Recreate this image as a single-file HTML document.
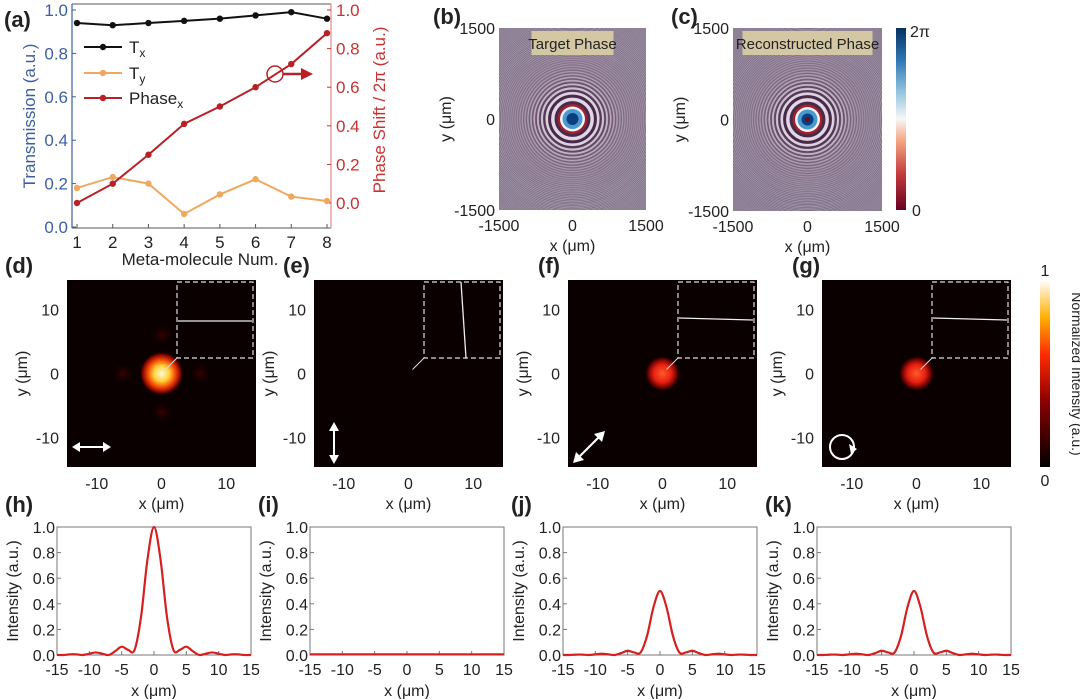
<!DOCTYPE html>
<html><head><meta charset="utf-8"><style>
html,body{margin:0;padding:0;background:#fff;}
svg{display:block;font-family:"Liberation Sans",Arial,sans-serif;}
</style></head><body>
<svg id="fig" width="1080" height="699" viewBox="0 0 1080 699" xmlns="http://www.w3.org/2000/svg">
<defs>
<linearGradient id="phaseCb" x1="0" y1="1" x2="0" y2="0">
<stop offset="0" stop-color="#67001f"/><stop offset="0.2" stop-color="#c43c3c"/><stop offset="0.38" stop-color="#f4a582"/><stop offset="0.5" stop-color="#f7f7f7"/><stop offset="0.65" stop-color="#92c5de"/><stop offset="0.82" stop-color="#2f79b5"/><stop offset="1" stop-color="#053061"/>
</linearGradient>
<linearGradient id="hotCb" x1="0" y1="1" x2="0" y2="0">
<stop offset="0" stop-color="#000"/><stop offset="0.35" stop-color="#8b0000"/><stop offset="0.6" stop-color="#ff2a00"/><stop offset="0.8" stop-color="#ffb000"/><stop offset="1" stop-color="#ffffff"/>
</linearGradient>
<radialGradient id="spotBright"><stop offset="0" stop-color="#fffbe0"/><stop offset="0.35" stop-color="#ffd23a"/><stop offset="0.65" stop-color="#f04000"/><stop offset="0.88" stop-color="#700000"/><stop offset="1" stop-color="#0a0000" stop-opacity="0"/></radialGradient>
<radialGradient id="spotMid"><stop offset="0" stop-color="#ff5a2a"/><stop offset="0.5" stop-color="#e62010"/><stop offset="0.82" stop-color="#600000"/><stop offset="1" stop-color="#0a0000" stop-opacity="0"/></radialGradient>
<radialGradient id="lobe"><stop offset="0" stop-color="#3a0000"/><stop offset="1" stop-color="#0a0000" stop-opacity="0"/></radialGradient>
<clipPath id="clipB"><rect x="499" y="28" width="147" height="182"/></clipPath>
<clipPath id="clipC"><rect x="733" y="28" width="149" height="183"/></clipPath>
</defs>
<g id="root"></g>
</svg>
<script>
// ---------- Panel (a) data ----------
const metaNums = [1,2,3,4,5,6,7,8];
const txValues = [0.94,0.93,0.94,0.95,0.96,0.975,0.99,0.96];
const tyValues = [0.18,0.23,0.20,0.06,0.15,0.22,0.14,0.12];
const phaseValues = [0.0,0.10,0.25,0.41,0.50,0.60,0.72,0.88];
const leftTicks = ["0.0","0.2","0.4","0.6","0.8","1.0"];
const rightTicks = ["0.0","0.2","0.4","0.6","0.8","1.0"];
// ---------- Line profile data (x = -15..15 step 1) ----------
const profileX = [-15,-14,-13,-12,-11,-10,-9,-8,-7,-6,-5,-4,-3,-2,-1,0,1,2,3,4,5,6,7,8,9,10,11,12,13,14,15];
const profileH = [0,0,0.005,0.005,0,0.01,0.02,0.01,0,0.03,0.065,0.04,0.04,0.3,0.75,1.0,0.75,0.3,0.04,0.04,0.065,0.03,0,0.01,0.02,0.01,0,0.005,0.005,0,0];
const profileI = [0.005,0.005,0.005,0.005,0.005,0.005,0.005,0.005,0.005,0.005,0.005,0.005,0.005,0.005,0.005,0.005,0.005,0.005,0.005,0.005,0.005,0.005,0.005,0.005,0.005,0.005,0.005,0.005,0.005,0.005,0.005];
const profileJ = [0,0,0.003,0.003,0,0.005,0.01,0.005,0,0.015,0.033,0.02,0.02,0.15,0.375,0.5,0.375,0.15,0.02,0.02,0.033,0.015,0,0.005,0.01,0.005,0,0.003,0.003,0,0];
const profileK = [0,0,0.003,0.003,0,0.005,0.01,0.005,0,0.015,0.033,0.02,0.02,0.15,0.375,0.5,0.375,0.15,0.02,0.02,0.033,0.015,0,0.005,0.01,0.005,0,0.003,0.003,0,0];
const profileTicksX = [-15,-10,-5,0,5,10,15];
const profileTicksY = ["0.0","0.2","0.4","0.6","0.8","1.0"];
const mapTicks = [-10,0,10];
const phaseTicks = [-1500,0,1500];

const NS="http://www.w3.org/2000/svg";
const root=document.getElementById('root');
function el(tag,attrs,parent,text){const e=document.createElementNS(NS,tag);for(const k in attrs)e.setAttribute(k,attrs[k]);if(text!==undefined)e.textContent=text;(parent||root).appendChild(e);return e;}

// ===== Panel (a) =====
const ax={l:72,r:331,t:4,b:228};
const axX=v=>77+(v-1)*(327-77)/7;
const axYL=v=>227-217*v;
const axYR=v=>203-193*v;
const gA=el('g',{});


let t=el('text',{x:4,y:27,'font-size':22,'font-weight':'bold',fill:'#222'},gA,'(a)');

let fr=el('line',{x1:ax.l,y1:ax.t,x2:ax.r,y2:ax.t,stroke:'#555','stroke-width':1},gA);
fr=el('line',{x1:ax.l,y1:ax.b,x2:ax.r,y2:ax.b,stroke:'#555','stroke-width':1},gA);

fr=el('line',{x1:ax.l,y1:ax.t,x2:ax.l,y2:ax.b,stroke:'#3d5fa0','stroke-width':1.2},gA);

fr=el('line',{x1:ax.r,y1:ax.t,x2:ax.r,y2:ax.b,stroke:'#e08a8a','stroke-width':1.2},gA);

leftTicks.forEach(s=>{const v=parseFloat(s);const y=axYL(v);
 el('line',{x1:ax.l,y1:y,x2:ax.l+4,y2:y,stroke:'#3d5fa0'},gA);
 const tt=el('text',{x:ax.l-4,y:y+6,'font-size':17,fill:'#3d5fa0','text-anchor':'end'},gA,s);
 });
rightTicks.forEach(s=>{const v=parseFloat(s);const y=axYR(v);
 el('line',{x1:ax.r-4,y1:y,x2:ax.r,y2:y,stroke:'#c83232'},gA);
 const tt=el('text',{x:ax.r+5,y:y+6,'font-size':17,fill:'#c83232'},gA,s);
 });
metaNums.forEach(n=>{const x=axX(n);
 el('line',{x1:x,y1:ax.b,x2:x,y2:ax.b-4,stroke:'#555'},gA);
 const tt=el('text',{x:x,y:248,'font-size':17,fill:'#222','text-anchor':'middle'},gA,String(n));
 });
t=el('text',{x:200,y:265,'font-size':17,fill:'#222','text-anchor':'middle'},gA,'Meta-molecule Num.');

t=el('text',{x:0,y:0,'font-size':17,fill:'#3d5fa0','text-anchor':'middle',transform:'translate(35,116) rotate(-90)'},gA,'Transmission (a.u.)');

t=el('text',{x:0,y:0,'font-size':17,fill:'#c83232','text-anchor':'middle',transform:'translate(385,110) rotate(-90)'},gA,'Phase Shift / 2π (a.u.)');

function series(vals,scale,color,name){
 const pts=vals.map((v,i)=>axX(metaNums[i])+','+scale(v)).join(' ');
 const p=el('polyline',{points:pts,fill:'none',stroke:color,'stroke-width':2},gA);
 
 vals.forEach((v,i)=>{const c=el('circle',{cx:axX(metaNums[i]),cy:scale(v),r:3.2,fill:color},gA);
  });
}
series(txValues,axYL,'#111','tx');
series(tyValues,axYL,'#f0a860','ty');
series(phaseValues,axYR,'#b82025','phase');
[['#111','T','x',47],['#f0a860','T','y',73],['#b82025','Phase','x',98]].forEach(([c,s,sub,y])=>{
 const lg=el('g',{},gA);
 el('line',{x1:84,y1:y,x2:122,y2:y,stroke:c,'stroke-width':2},lg);
 el('circle',{cx:103,cy:y,r:3.2,fill:c},lg);
 const tx=el('text',{x:129,y:y+6,'font-size':17,fill:'#222'},lg,s);
 el('tspan',{'font-size':12,dy:4},tx,sub);});
t=el('circle',{cx:275,cy:74,r:8,fill:'none',stroke:'#b82025','stroke-width':1.5},gA);

el('line',{x1:283,y1:74,x2:303,y2:74,stroke:'#b82025','stroke-width':2.5},gA);
el('polygon',{points:'301,68 313,74 301,80',fill:'#b82025'},gA);

// ===== Phase maps (b),(c) =====
function phaseMap(x0,y0,w,h,clip,name,label,lblW,noisy){
 const g=el('g',{});
 const cx=x0+w/2, cy=y0+h/2;
 const inner=el('g',{'clip-path':'url(#'+clip+')'},g);
 el('rect',{x:x0,y:y0,width:w,height:h,fill:noisy?'#8d8398':'#8f8599'},inner);
 for(let n=140;n>=1;n--){
  const r=9*Math.sqrt(n*1.6);
  const col=(n%2===0)?'#4a2848':'#e0d8e6';
  const op=Math.max(0.2,Math.min(1,6/(r*0.25)));
  el('circle',{cx:cx,cy:cy,r:r,fill:'none',stroke:col,'stroke-width':Math.max(0.9,3.5-n*0.05),'stroke-opacity':op},inner);
 }
 el('circle',{cx:cx,cy:cy,r:15,fill:'#a02030'},inner);
 el('circle',{cx:cx,cy:cy,r:12.5,fill:'#f4f4f4'},inner);
 el('circle',{cx:cx,cy:cy,r:10,fill:'#4a9ad0'},inner);
 el('circle',{cx:cx,cy:cy,r:6,fill:'#0c3f80'},inner);
 if(noisy) el('circle',{cx:cx,cy:cy,r:2.5,fill:'#6b0f20'},inner);
 const lb=el('g',{},g);
 el('rect',{x:cx-lblW/2,y:y0+3,width:lblW,height:24,fill:'#d4c8a4'},lb);
 el('text',{x:cx,y:y0+21,'font-size':15,fill:'#222','text-anchor':'middle'},lb,label);
 phaseTicks.forEach(v=>{
  const xx=x0+(v+1500)/3000*w, yy=y0+h-(v+1500)/3000*h;
  const a=el('text',{x:xx,y:y0+h+21,'font-size':16,fill:'#222','text-anchor':'middle'},g,String(v));
  
  const b=el('text',{x:x0-4,y:yy+6,'font-size':16,fill:'#222','text-anchor':'end'},g,String(v));
  });
 let xl=el('text',{x:cx,y:y0+h+41,'font-size':16,fill:'#222','text-anchor':'middle'},g,'x (μm)');
 
 let yl=el('text',{x:0,y:0,'font-size':16,fill:'#222','text-anchor':'middle',transform:'translate('+(x0-48)+','+cy+') rotate(-90)'},g,'y (μm)');
 
}
phaseMap(499,28,147,182,'clipB','phase-map-target','Target Phase',82,false);
phaseMap(733,28,149,183,'clipC','phase-map-reconstructed','Reconstructed Phase',130,true);
t=el('text',{x:433,y:24,'font-size':22,'font-weight':'bold',fill:'#222'},root,'(b)');

t=el('text',{x:671,y:24,'font-size':22,'font-weight':'bold',fill:'#222'},root,'(c)');

t=el('rect',{x:896,y:28,width:10,height:182,fill:'url(#phaseCb)'},root);

t=el('text',{x:910,y:37,'font-size':16,fill:'#222'},root,'2π');

t=el('text',{x:912,y:216,'font-size':16,fill:'#222'},root,'0');


// ===== Intensity maps (d)-(g) =====
function intensityMap(x0,name,lbl,lblX,spot,inset,pol){
 const y0=280,w=189,h=187;
 const g=el('g',{});
 el('rect',{x:x0,y:y0,width:w,height:h,fill:'#0a0000'},g);
 const cx=x0+w/2, cy=y0+h/2;
 const sx=v=>cx+v*(w/2)/14.6, sy=v=>cy-v*(h/2)/14.6;
 if(spot==='bright'){
  [[0,6],[0,-6],[6,0],[-6,0]].forEach(([a,b])=>el('circle',{cx:sx(a),cy:sy(b),r:12,fill:'url(#lobe)'},g));
  el('circle',{cx:cx,cy:cy,r:22,fill:'url(#spotBright)'},g);
 } else if(spot==='mid'){
  el('circle',{cx:cx,cy:cy,r:18,fill:'url(#spotMid)'},g);
 }
 const bx=x0+110, by=y0+2;
 const ins=el('g',{},g);
 el('rect',{x:bx,y:by,width:76,height:76,fill:'none',stroke:'#ddd','stroke-width':1.2,'stroke-dasharray':'5,3'},ins);
 if(inset==='h') el('line',{x1:bx+1,y1:by+39,x2:bx+75,y2:by+39,stroke:'#eee','stroke-width':1.3},ins);
 if(inset==='v') el('line',{x1:bx+37,y1:by,x2:bx+42,y2:by+76,stroke:'#eee','stroke-width':1.3},ins);
 if(inset==='t') el('line',{x1:bx+1,y1:by+36,x2:bx+75,y2:by+38,stroke:'#eee','stroke-width':1.3},ins);
 el('line',{x1:bx,y1:by+76,x2:cx+4,y2:cy-4,stroke:'#ddd','stroke-width':1},ins);
 const pg=el('g',{stroke:'#fff','stroke-width':2,fill:'#fff'},g);
 
 if(pol==='h'){el('line',{x1:76,y1:0,x2:106,y2:0,transform:'translate('+(x0-67)+',447)'},pg);
  el('polygon',{points:(x0+5)+',447 '+(x0+13)+',442 '+(x0+13)+',452',stroke:'none'},pg);
  el('polygon',{points:(x0+44)+',447 '+(x0+36)+',442 '+(x0+36)+',452',stroke:'none'},pg);}
 if(pol==='v'){el('line',{x1:x0+20,y1:429,x2:x0+20,y2:461},pg);
  el('polygon',{points:(x0+20)+',422 '+(x0+15)+',431 '+(x0+25)+',431',stroke:'none'},pg);
  el('polygon',{points:(x0+20)+',464 '+(x0+15)+',455 '+(x0+25)+',455',stroke:'none'},pg);}
 if(pol==='d'){el('line',{x1:x0+10,y1:458,x2:x0+32,y2:436},pg);
  el('polygon',{points:(x0+5)+','+463+' '+(x0+8)+',452 '+(x0+16)+',460',stroke:'none'},pg);
  el('polygon',{points:(x0+37)+','+431+' '+(x0+34)+',442 '+(x0+26)+',434',stroke:'none'},pg);}
 if(pol==='c'){el('circle',{cx:x0+20,cy:447,r:12,fill:'none'},pg);
  el('polygon',{points:(x0+27)+',444 '+(x0+35)+',449 '+(x0+29)+',454',stroke:'none'},pg);}
 mapTicks.forEach(v=>{
  const a=el('text',{x:sx(v),y:y0+h+22,'font-size':16,fill:'#222','text-anchor':'middle'},g,String(v));
  
  const b=el('text',{x:x0-8,y:sy(v)+6,'font-size':16,fill:'#222','text-anchor':'end'},g,String(v));
  });
 let xl=el('text',{x:cx,y:y0+h+42,'font-size':16,fill:'#222','text-anchor':'middle'},g,'x (μm)');
 
 let yl=el('text',{x:0,y:0,'font-size':16,fill:'#222','text-anchor':'middle',transform:'translate('+(x0-40)+','+cy+') rotate(-90)'},g,'y (μm)');
 
 let pl=el('text',{x:lblX,y:273,'font-size':22,'font-weight':'bold',fill:'#222'},g,lbl);
 
}
intensityMap(67,'intensity-map-d','(d)',5,'bright','h','h');
intensityMap(314,'intensity-map-e','(e)',283,'none','v','v');
intensityMap(568,'intensity-map-f','(f)',538,'mid','t','d');
intensityMap(822,'intensity-map-g','(g)',792,'mid','t','c');
t=el('rect',{x:1040,y:280,width:10,height:187,fill:'url(#hotCb)'},root);

t=el('text',{x:1045,y:276,'font-size':16,fill:'#222','text-anchor':'middle'},root,'1');

t=el('text',{x:1045,y:486,'font-size':16,fill:'#222','text-anchor':'middle'},root,'0');

t=el('text',{x:0,y:0,'font-size':14,fill:'#222','text-anchor':'middle',transform:'translate(1072,374) rotate(90)'},root,'Normalized Intensity (a.u.)');


// ===== Line profiles (h)-(k) =====
function profile(x0,name,lbl,vals){
 const y0=527,w=194,h=128;
 const g=el('g',{});
 const sx=v=>x0+(v+15)/30*w, sy=v=>y0+h-v*h;
 el('rect',{x:x0,y:y0,width:w,height:h,fill:'#fff',stroke:'#777','stroke-width':1},g);
 profileTicksY.forEach(s=>{const v=parseFloat(s);
  el('line',{x1:x0,y1:sy(v),x2:x0+4,y2:sy(v),stroke:'#777'},g);
  const a=el('text',{x:x0-2,y:sy(v)+6,'font-size':16,fill:'#222','text-anchor':'end'},g,s);
  });
 profileTicksX.forEach(v=>{
  el('line',{x1:sx(v),y1:y0+h,x2:sx(v),y2:y0+h-4,stroke:'#777'},g);
  const a=el('text',{x:sx(v),y:y0+h+20,'font-size':16,fill:'#222','text-anchor':'middle'},g,String(v));
  });
 let d='M'+sx(profileX[0])+','+sy(vals[0]);
 for(let i=0;i<vals.length-1;i++){
  const p0=[sx(profileX[Math.max(0,i-1)]),sy(vals[Math.max(0,i-1)])],p1=[sx(profileX[i]),sy(vals[i])],p2=[sx(profileX[i+1]),sy(vals[i+1])],p3=[sx(profileX[Math.min(vals.length-1,i+2)]),sy(vals[Math.min(vals.length-1,i+2)])];
  d+=' C'+(p1[0]+(p2[0]-p0[0])/6)+','+(p1[1]+(p2[1]-p0[1])/6)+' '+(p2[0]-(p3[0]-p1[0])/6)+','+(p2[1]-(p3[1]-p1[1])/6)+' '+p2[0]+','+p2[1];
 }
 const c=el('path',{d:d,fill:'none',stroke:'#d42020','stroke-width':2.2},g);
 
 let xl=el('text',{x:x0+w/2,y:y0+h+41,'font-size':16,fill:'#222','text-anchor':'middle'},g,'x (μm)');
 
 let yl=el('text',{x:0,y:0,'font-size':16,fill:'#222','text-anchor':'middle',transform:'translate('+(x0-39)+','+(y0+h/2)+') rotate(-90)'},g,'Intensity (a.u.)');
 
 let pl=el('text',{x:x0-52,y:512,'font-size':22,'font-weight':'bold',fill:'#222'},g,lbl);
 
}
profile(57,'profile-h','(h)',profileH);
profile(310,'profile-i','(i)',profileI);
profile(563,'profile-j','(j)',profileJ);
profile(817,'profile-k','(k)',profileK);
</script>
</body></html>
